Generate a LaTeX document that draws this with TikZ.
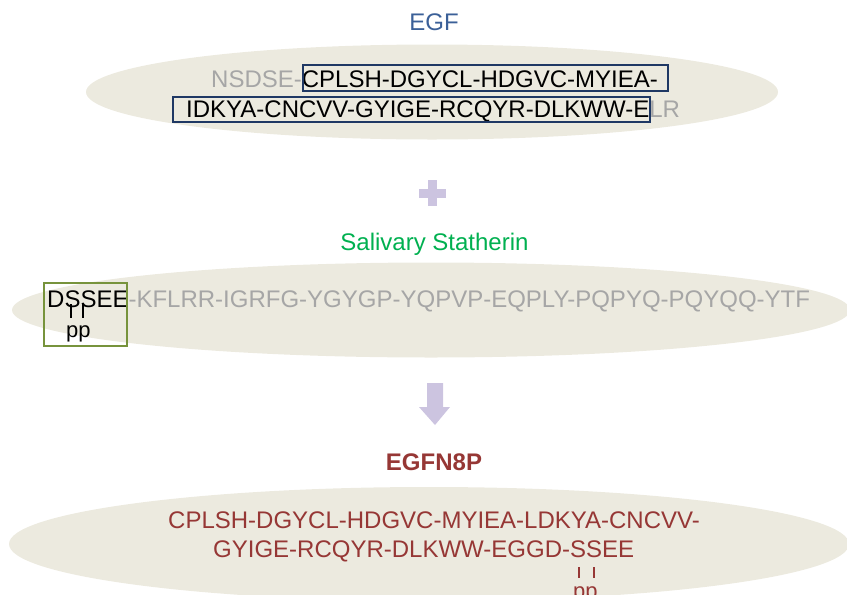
\documentclass[tikz,border=0pt]{standalone}
\usepackage{fontspec}
\setmainfont{Liberation Sans}
\usetikzlibrary{shapes.geometric}
\definecolor{beige}{RGB}{236,234,223}
\definecolor{seqgray}{RGB}{166,166,166}
\definecolor{egfblue}{RGB}{59,96,152}
\definecolor{navy}{RGB}{31,56,100}
\definecolor{salgreen}{RGB}{0,176,80}
\definecolor{olive}{RGB}{119,147,60}
\definecolor{lav}{RGB}{204,196,224}
\definecolor{darkred}{RGB}{150,55,53}
\tikzset{
  blob/.style={ellipse, fill=beige, draw=none, inner sep=0pt},
  seq/.style={anchor=base west, inner sep=0pt, font=\fontsize{24}{29}\selectfont},
  title/.style={anchor=base, inner sep=0pt, font=\fontsize{24}{29}\selectfont},
  phos/.style={anchor=base west, inner sep=0pt, font=\fontsize{22}{26}\selectfont},
  egfbox/.style={draw=navy, line width=2.2pt},
  salbox/.style={draw=olive, line width=2.2pt},
  tick/.style={line width=1.3pt}
}
\begin{document}
\begin{tikzpicture}[x=1pt,y=-1pt]
\useasboundingbox (0,0) rectangle (847,595);
\clip (0,0) rectangle (847,595);
% ellipses
\node[blob, minimum width=692pt, minimum height=95pt] (e1) at (432,92) {};
\node[blob, minimum width=838pt, minimum height=95pt] (e2) at (431,310) {};
\node[blob, minimum width=840pt, minimum height=114pt] (e3) at (429,544) {};
% EGF
\node[title, text=egfblue] (tegf) at (434,30) {EGF};
\node[seq] (l1) at (211,87) {\textcolor{seqgray}{NSDSE-}CPLSH-DGYCL-HDGVC-MYIEA-};
\node[seq] (l2) at (186,117) {IDKYA-CNCVV-GYIGE-RCQYR-DLKWW-E\textcolor{seqgray}{LR}};
\draw[egfbox] (303,65) rectangle (668,91);
\draw[egfbox] (173,97) rectangle (650,122);
% plus
\fill[lav] (419,189) rectangle (446,198);
\fill[lav] (428,180) rectangle (437,206);
% Statherin
\node[title, text=salgreen] (tsal) at (434.5,250) {Salivary Statherin};
\node[seq] (l3) at (47,307) {DSSEE\textcolor{seqgray}{-KFLRR-IGRFG-YGYGP-YQPVP-EQPLY-PQPYQ-PQYQQ-YTF}};
\draw[tick] (71,304) -- (71,318);
\draw[tick] (83,304) -- (83,318);
\node[phos] (p1) at (66,337) {pp};
\draw[salbox] (44,283) rectangle (127,346);
% arrow
\fill[lav] (427,383) -- (443,383) -- (443,407) -- (450,407) -- (435,425) -- (419,407) -- (427,407) -- cycle;
% EGFN8P
\node[title, text=darkred, font=\fontsize{24}{29}\selectfont\bfseries] (tn8p) at (434,470) {EGFN8P};
\node[seq, text=darkred] (l4) at (168,528) {CPLSH-DGYCL-HDGVC-MYIEA-LDKYA-CNCVV-};
\node[seq, text=darkred] (l5) at (213,557) {GYIGE-RCQYR-DLKWW-EGGD-SSEE};
\draw[tick, darkred] (579,567) -- (579,578);
\draw[tick, darkred] (594,567) -- (594,578);
\node[phos, text=darkred] (p2) at (573,598) {pp};
\end{tikzpicture}
\end{document}
